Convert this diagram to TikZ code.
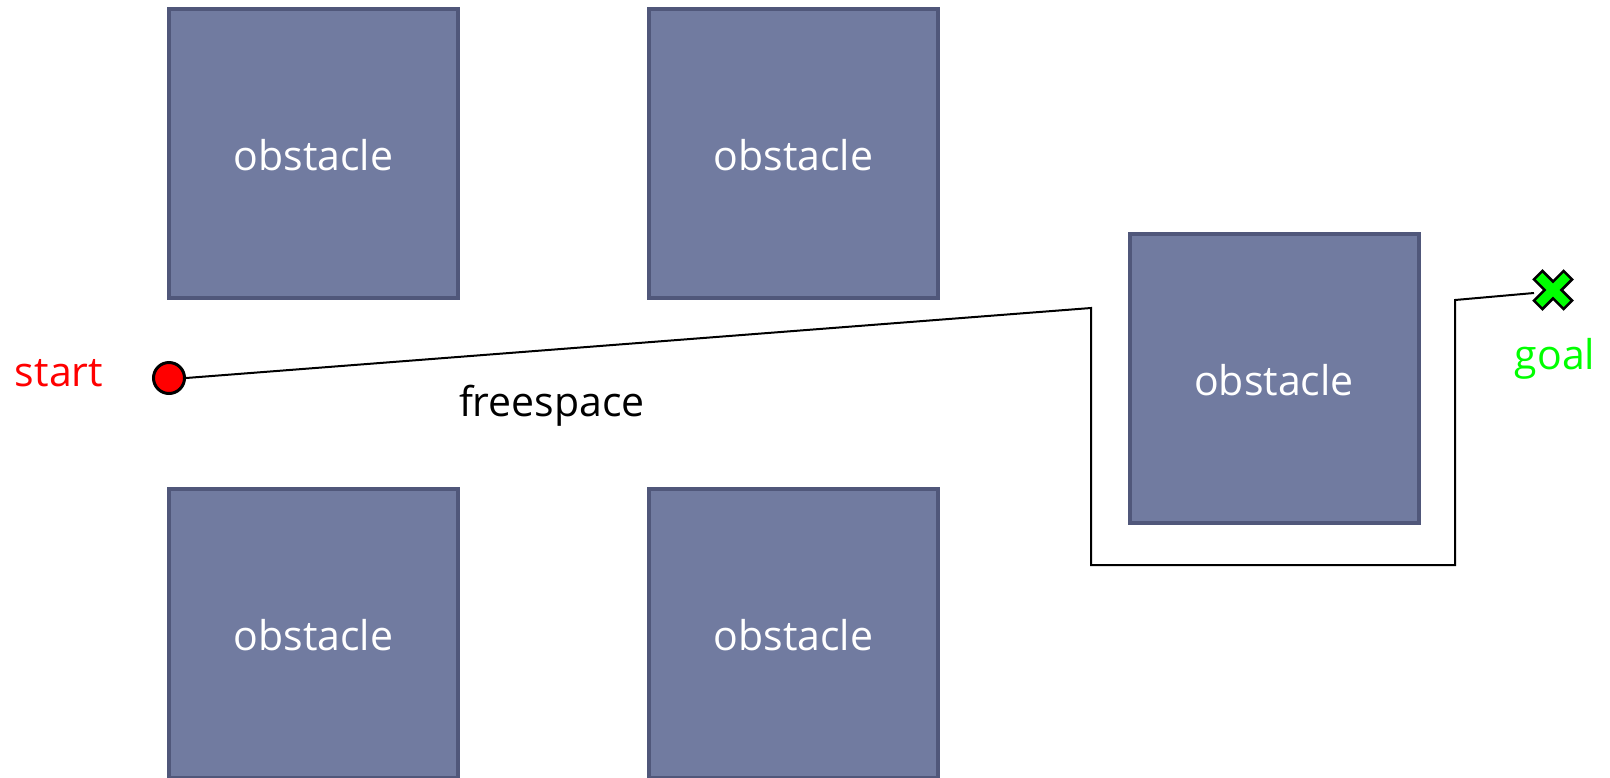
\documentclass[tikz,border=0pt]{standalone}
\usepackage{fontspec}
\setmainfont{Open Sans}
\begin{document}
\begin{tikzpicture}[x=1pt,y=-1pt,
  obst/.style={draw=obsborder,fill=obsfill,line width=4pt,minimum width=289pt,minimum height=289pt,inner sep=0pt,
    label={[text=white,font=\fontsize{41}{48}\selectfont,yshift=-2pt]center:obstacle}},
  lbl/.style={font=\fontsize{41}{48}\selectfont},
  route/.style={draw=black,line width=2pt,line join=miter}]
\definecolor{obsfill}{RGB}{113,123,160}
\definecolor{obsborder}{RGB}{80,87,122}
\definecolor{goalgreen}{RGB}{0,255,0}
\clip (0,0) rectangle (1610,777);
\fill[white] (0,0) rectangle (1610,777);
\node[obst] (o1) at (313.5,153.5) {};
\node[obst] (o2) at (793.5,153.5) {};
\node[obst] (o3) at (313.5,633.5) {};
\node[obst] (o4) at (793.5,633.5) {};
\node[obst] (o5) at (1274,378) {};
\node[lbl,text=red] (startlbl) at (59,373) {start};
\node[lbl] (free) at (552,406) {freespace};
\node[lbl,text=goalgreen] (goallbl) at (1555,359) {goal};
\node[circle,draw=black,fill=red,line width=3pt,minimum size=31pt,inner sep=0pt] (start) at (169,378) {};
\coordinate (c1) at (1091,308);
\coordinate (c2) at (1091,565);
\coordinate (c3) at (1455,565);
\coordinate (c4) at (1455,300);
\coordinate (goal) at (1553,290);
\coordinate (goalend) at (1534,293);
\draw[route] (start.east) -- (c1) -- (c2) -- (c3) -- (c4) -- (goalend);
\draw[black,fill=goalgreen,line width=2.5pt,line join=miter,shift={(goal)},rotate=45]
  (-6,-21) -- (6,-21) -- (6,-6) -- (21,-6) -- (21,6) -- (6,6) -- (6,21) -- (-6,21) -- (-6,6) -- (-21,6) -- (-21,-6) -- (-6,-6) -- cycle;
\end{tikzpicture}
\end{document}
